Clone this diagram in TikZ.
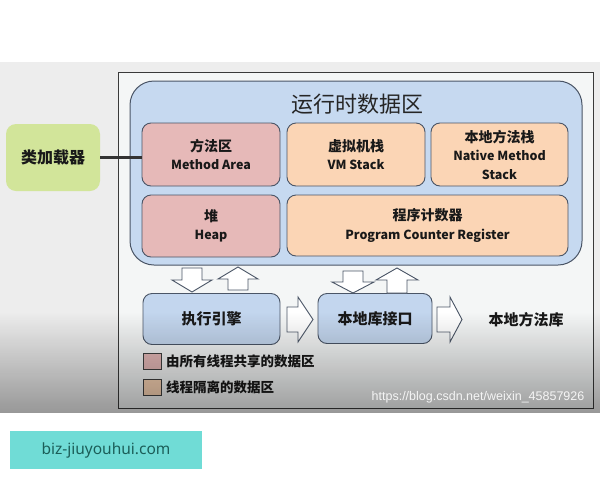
\documentclass[tikz,border=0pt]{standalone}
\usepackage{fontspec}
\newfontfamily\cjk{Noto Sans CJK SC}
\newfontfamily\wmfont{Liberation Sans}
\newfontfamily\sitefont{Noto Sans}
\usetikzlibrary{fadings}
\definecolor{bandgray}{HTML}{EDEDED}
\definecolor{framefill}{HTML}{F4F6F6}
\definecolor{frameline}{HTML}{3A3A3A}
\definecolor{bigblue}{HTML}{C6D9F0}
\definecolor{boxline}{HTML}{4A5566}
\definecolor{pinkbox}{HTML}{E6B9B8}
\definecolor{orangebox}{HTML}{FBD5B5}
\definecolor{greenbox}{HTML}{D2E59A}
\definecolor{execblue}{HTML}{C3D6EE}
\definecolor{sitecyan}{HTML}{70DCD6}
\definecolor{sitetext}{HTML}{1B5E58}
\tikzfading[name=fadeup, top color=transparent!100, bottom color=transparent!0]
\begin{document}
\begin{tikzpicture}[x=1pt,y=-1pt,
  box/.style={draw=boxline, line width=0.9pt, rounded corners=9pt, inner sep=0pt,
    font=\cjk\bfseries\fontsize{12.5}{18.5}\selectfont, align=center, text=black!90},
  bigbox/.style={draw=boxline, line width=1pt, rounded corners=24pt, fill=bigblue},
  blockarrow/.style={draw=boxline, fill=white, line width=0.9pt, line join=miter},
  label/.style={font=\cjk\bfseries\fontsize{15}{15}\selectfont, text=black!90},
  legendtext/.style={font=\cjk\bfseries\fontsize{13.5}{13.5}\selectfont, text=black!90, anchor=west, inner sep=0pt}]
\useasboundingbox (0,0) rectangle (600,480);
\fill[white] (0,0) rectangle (600,480);
\fill[bandgray] (0,62) rectangle (600,413);
\draw[draw=frameline, fill=framefill, line width=0.8pt] (118,72) rectangle (593,408);

% runtime data area
\node[bigbox, minimum width=452pt, minimum height=184pt] (rt) at (356,173) {};
\node[font=\cjk\fontsize{22}{22}\selectfont, text=black!85] (title) at (357,104) {运行时数据区};

\node[box, fill=pinkbox, minimum width=138pt, minimum height=63pt] (m) at (211,154.5)
  {{\fontsize{14}{18.5}\selectfont 方法区}\\Method Area};
\node[box, fill=orangebox, minimum width=138pt, minimum height=63pt] (vm) at (356,154.5)
  {{\fontsize{14}{18.5}\selectfont 虚拟机栈}\\VM Stack};
\node[box, fill=orangebox, minimum width=137pt, minimum height=63pt] (nm) at (499.5,154.5)
  {{\fontsize{14}{18.5}\selectfont 本地方法栈}\\Native Method\\Stack};
\node[box, fill=pinkbox, minimum width=138pt, minimum height=62pt] (heap) at (211,226)
  {{\fontsize{14}{18.5}\selectfont 堆}\\Heap};
\node[box, fill=orangebox, minimum width=281pt, minimum height=61pt] (pc) at (427.5,225.5)
  {{\fontsize{14}{18.5}\selectfont 程序计数器}\\Program Counter Register};

% class loader
\node[draw=none, fill=greenbox, rounded corners=10pt, minimum width=94pt, minimum height=67pt,
  font=\cjk\bfseries\fontsize{16}{16}\selectfont, text=black!90] (cl) at (53,157.5) {类加载器};
\draw[line width=3pt, color=black!80] (cl.east) -- (cl.east -| m.west);

% execution engine etc.
\node[box, fill=execblue, minimum width=137pt, minimum height=51pt, font=\cjk\bfseries\fontsize{15}{15}\selectfont] (ee) at (211.5,319) {执行引擎};
\node[box, fill=execblue, minimum width=114pt, minimum height=50pt, font=\cjk\bfseries\fontsize{15}{15}\selectfont] (ni) at (375,318.5) {本地库接口};
\node[label] (nl) at (526,320) {本地方法库};

% block arrows
\draw[blockarrow] (182,268)--(202,268)--(202,280)--(212,280)--(192,292)--(172,280)--(182,280)--cycle;
\draw[blockarrow] (228,290)--(248,290)--(248,279)--(258,279)--(238,267)--(218,279)--(228,279)--cycle;
\draw[blockarrow] (343,271)--(363,271)--(363,282)--(374,282)--(353,293)--(332,282)--(343,282)--cycle;
\draw[blockarrow] (387,293)--(407,293)--(407,280)--(418,280)--(397,268)--(376,280)--(387,280)--cycle;
\draw[blockarrow] (287,307)--(298,307)--(298,297)--(313,319.5)--(298,342)--(298,332)--(287,332)--cycle;
\draw[blockarrow] (437,307)--(450,307)--(450,297)--(462,319.5)--(450,342)--(450,332)--(437,332)--cycle;

% legend
\node[draw=black!75, fill=pinkbox, line width=0.9pt, minimum width=18pt, minimum height=16pt, inner sep=0pt] (lg1) at (152,361) {};
\node[legendtext] (lt1) at (166,361) {由所有线程共享的数据区};
\node[draw=black!75, fill=orangebox, line width=0.9pt, minimum width=18pt, minimum height=16pt, inner sep=0pt] (lg2) at (152,387.5) {};
\node[legendtext] (lt2) at (166,387.5) {线程隔离的数据区};

% video shadow
\fill[black, path fading=fadeup, fill opacity=0.36] (0,312) rectangle (600,413);

% watermark
\node[font=\wmfont\fontsize{12.5}{12.5}\selectfont, text=white!92!gray] (wm) at (478,397) {https://blog.csdn.net/weixin\_45857926};

% site box
\node[fill=sitecyan, minimum width=192pt, minimum height=38pt, inner sep=0pt,
  font=\sitefont\fontsize{15.5}{15.5}\selectfont, text=sitetext] (site) at (106,450) {biz-jiuyouhui.com};
\end{tikzpicture}
\end{document}
